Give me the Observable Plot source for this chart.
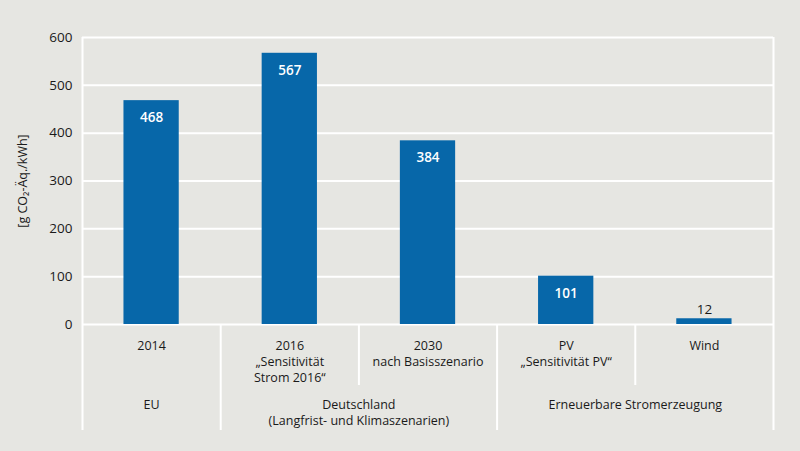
<!DOCTYPE html>
<html>
<head>
<meta charset="utf-8">
<script src="https://cdn.jsdelivr.net/npm/d3@7"></script>
<script src="https://cdn.jsdelivr.net/npm/@observablehq/plot@0.6"></script>
<style>
  html, body { margin: 0; padding: 0; background: #e6e6e2; }
  svg { display: block; }
</style>
</head>
<body>
<div id="chart"></div>
<script>
const categories = ["2014", "2016\n„Sensitivität\nStrom 2016“", "2030\nnach Basisszenario", "PV\n„Sensitivität PV“", "Wind"];
const values = [468, 567, 384, 101, 12];
const groups = ["EU", "Deutschland\n(Langfrist- und Klimaszenarien)", "Erneuerbare Stromerzeugung"];
const groupMembers = [[0], [1, 2], [3, 4]];
const yTicks = [0, 100, 200, 300, 400, 500, 600];
const yLabel = "[g CO₂-Äq./kWh]";

const data = categories.map((c, i) => ({i, label: c, value: values[i], inside: values[i] > 50}));
const groupData = groups.map((g, k) => ({label: g, x: d3.mean(groupMembers[k]), left: d3.min(groupMembers[k]) - 0.5, right: d3.max(groupMembers[k]) + 0.5}));
const catSeparators = d3.range(1, categories.length).map(i => i - 0.5).filter(x => !groupData.some(g => g.left === x));
const groupSeparators = d3.sort(d3.union(groupData.map(g => g.left), groupData.map(g => g.right)));

const blue = "#0767a9";
const fontFamily = "'Open Sans', 'Noto Sans', sans-serif";

const chart = Plot.plot({
  width: 800,
  height: 451,
  marginLeft: 82,
  marginRight: 27,
  marginTop: 37,
  marginBottom: 127,
  style: {background: "#e6e6e2", fontFamily, fontSize: "12.5px", color: "#1a1a1a"},
  x: {type: "linear", domain: [-0.5, categories.length - 0.5], axis: null},
  y: {domain: [0, 600], ticks: yTicks, label: null},
  marks: [
    Plot.ruleY(yTicks, {stroke: "white", strokeWidth: 2}),
    // outer frame & group separators through label area
    Plot.ruleX([groupSeparators[0], groupSeparators[groupSeparators.length - 1]], {stroke: "white", strokeWidth: 2, insetBottom: -106}),
    Plot.ruleX(groupSeparators.slice(1, -1), {stroke: "white", strokeWidth: 2, insetTop: 287, insetBottom: -106}),
    Plot.ruleX(catSeparators, {stroke: "white", strokeWidth: 2, insetTop: 287, insetBottom: -61}),
    Plot.rectY(data, {x1: d => d.i - 0.2, x2: d => d.i + 0.2, y: "value", fill: blue}),
    Plot.text(data.filter(d => d.inside), {x: "i", y: "value", text: d => String(d.value), fill: "white", fontWeight: 600, fontSize: 13.5, dy: 17}),
    Plot.text(data.filter(d => !d.inside), {x: "i", y: "value", text: d => String(d.value), fill: "#1a1a1a", fontSize: 13.5, dy: -9}),
    Plot.text(data, {x: "i", frameAnchor: "bottom", text: "label", lineAnchor: "top", dy: 14, lineHeight: 1.28, fontSize: 12.5, fill: "#1a1a1a"}),
    Plot.text(groupData, {x: "x", frameAnchor: "bottom", text: "label", lineAnchor: "top", dy: 73, lineHeight: 1.28, fontSize: 12.5, fill: "#1a1a1a"}),
    Plot.axisY({ticks: yTicks, tickSize: 0, tickPadding: 10, fontSize: 13.5, label: null, fill: "#1a1a1a"}),
    Plot.text([yLabel], {frameAnchor: "left", textAnchor: "middle", dx: -60, rotate: -90, fontSize: 12.5, fill: "#1a1a1a"})
  ]
});
document.getElementById("chart").append(chart);
</script>
</body>
</html>
